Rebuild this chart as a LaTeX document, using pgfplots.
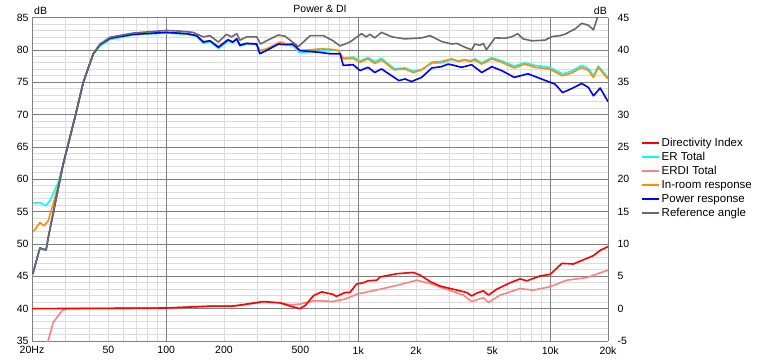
\documentclass[border=0pt]{standalone}
\usepackage{pgfplots}
\pgfplotsset{compat=1.18}
\usepackage{fontspec}
\setmainfont{Liberation Sans}
\definecolor{cDI}{RGB}{255,0,0}
\definecolor{cER}{RGB}{0,255,255}
\definecolor{cERDI}{RGB}{255,128,128}
\definecolor{cIR}{RGB}{255,140,0}
\definecolor{cPW}{RGB}{0,0,255}
\definecolor{cREF}{RGB}{105,105,105}
\definecolor{gmaj}{RGB}{128,128,128}
\definecolor{gmin}{RGB}{220,220,220}
\begin{document}
\begin{tikzpicture}[x=1pt,y=1pt]
\useasboundingbox (0,0) rectangle (760,360);
\pgfplotsset{every axis/.append style={
  scale only axis, width=576pt, height=323.5pt, at={(32pt,19pt)}, anchor=south west,
  xmode=log, xmin=20, xmax=20000, font=\fontsize{10.5}{12}\selectfont,
  /pgf/number format/assume math mode=true,
  major tick length=0pt, minor tick length=0pt,
  axis line style={gmaj},
  major grid style={gmaj, line width=0.7pt},
  minor grid style={gmin, line width=0.7pt},
  every axis plot/.append style={line width=1.6pt, line join=round},
}}
\begin{axis}[
  name=main,
  ymin=35, ymax=85, ytick={35,40,...,85},
  minor y tick num=4,
  ymajorgrids, yminorgrids,
  xtick={20,50,100,200,500,1000,2000,5000,10000,20000},
  xticklabels={20Hz,50,100,200,500,1k,2k,5k,10k,20k},
  xticklabel style={yshift=-2pt},
  minor xtick={20,30,40,50,60,70,80,90,200,300,400,500,600,700,800,900,2000,3000,4000,5000,6000,7000,8000,9000,20000},
  xmajorgrids=false, xminorgrids,
  extra x ticks={100,1000,10000}, extra x tick labels={},
  extra x tick style={xmajorgrids=true},
  axis x line*=bottom, axis y line*=left,
]
% ER Total
\addplot[cER] table {
20.3 56.3
22.0 56.4
23.6 55.9
24.8 56.7
27.4 59.5
29.1 62.4
33.5 69.6
37.0 75.0
41.7 79.3
45.2 80.6
51 81.6
67.4 82.3
100 82.6
128 82.4
144 82.1
156 81.0
169 81.3
187 80.2
210 81.4
222 81.1
233 81.6
242 80.6
262 80.9
296 80.8
307 79.6
333 80.0
392 81.0
458 80.6
496 79.6
562 79.7
632 79.8
716 80.0
790 79.9
836 78.7
942 78.9
1022 78.3
1125 78.8
1220 78.2
1322 78.7
1540 77.1
1752 77.2
1934 76.7
2140 77.0
2420 77.9
2714 78.0
3072 78.5
3330 78.3
3600 78.5
3830 78.3
4050 78.6
4400 78.0
4960 78.8
5580 78.3
6500 77.5
7350 78.0
8340 77.6
9900 77.3
11600 76.3
12900 76.7
14600 77.6
15800 77.1
16800 76.0
17800 77.5
20000 75.7
};
% In-room
\addplot[cIR] table {
20.3 51.9
22.0 53.3
23.1 52.8
24.3 53.6
25.8 56.2
27.4 59.0
29.1 62.4
33.5 69.6
37.0 75.0
41.7 79.4
45.2 80.8
51 81.8
67.4 82.4
100 82.7
128 82.5
144 82.2
156 81.3
169 81.4
187 80.5
210 81.6
222 81.2
233 81.7
242 80.8
262 81.0
296 80.9
307 79.9
333 80.15
392 81.2
458 80.7
496 79.9
562 80.0
632 80.15
716 80.1
790 79.9
836 78.6
942 78.7
1022 78.1
1125 78.6
1220 77.9
1322 78.45
1540 76.9
1752 77.05
1934 76.5
2140 76.9
2420 78.1
2714 78.2
3072 78.6
3330 78.2
3600 78.45
3830 78.2
4050 78.45
4400 77.8
4960 78.6
5580 78.1
6500 77.2
7350 77.8
8340 77.3
9900 77.05
11600 76.0
12900 76.4
14600 77.3
15800 76.8
16800 75.75
17800 77.3
20000 75.5
};
% Power
\addplot[cPW] table {
20.2 45.4
22.0 49.4
22.7 49.2
23.7 49.1
24.3 51.0
29.1 62.4
33.5 69.6
37.0 75.0
41.7 79.4
45.2 80.8
51 81.8
67.4 82.4
100 82.7
128 82.5
144 82.2
156 81.2
169 81.4
187 80.4
210 81.55
222 81.2
233 81.7
242 80.7
262 81.0
296 80.9
307 79.4
333 79.9
384 80.9
416 80.8
458 80.9
496 79.9
632 79.6
716 79.4
804 79.4
836 77.6
942 77.7
1022 76.8
1125 77.3
1220 76.5
1322 77.05
1628 75.25
1752 75.5
1894 75.1
2140 75.75
2420 77.2
2714 77.4
2940 77.8
3160 77.6
3450 77.3
3900 77.7
4400 76.5
4960 77.4
5580 76.8
6500 75.75
7660 76.3
9000 75.5
10600 74.7
11600 73.4
12900 74.0
14600 74.8
15800 74.2
16800 72.9
18200 74.1
20000 72.0
};
% Reference angle
\addplot[cREF] table {
20.2 45.4
22.0 49.4
22.7 49.2
23.7 49.1
24.3 51.0
29.1 62.4
33.5 69.6
37.0 75.0
41.7 79.4
45.2 80.9
51 81.95
67.4 82.6
100 83.0
118 82.9
138 82.7
156 82.0
169 82.2
187 81.2
206 82.4
219 82.0
233 82.5
242 81.5
262 82.0
296 82.0
310 80.9
333 81.4
384 82.3
416 82.1
488 80.5
562 82.2
658 82.2
740 81.4
804 80.6
905 81.2
1040 82.5
1100 82.0
1150 82.4
1220 81.85
1322 82.7
1500 82.0
1752 81.7
2140 81.85
2366 82.2
2714 81.3
3072 80.9
3260 81.0
3600 80.4
3900 80.0
4050 80.9
4300 80.7
4486 81.0
4650 80.0
5160 81.85
5820 81.8
6270 82.0
6770 82.5
7220 81.7
8000 81.4
9400 81.5
10200 82.05
11250 82.2
11900 82.4
13500 83.25
14600 84.1
15800 83.8
16800 83.1
17400 84.5
18200 86.5
20000 86.5
};
\end{axis}
\begin{axis}[
  ymin=-5, ymax=45, ytick={-5,0,...,45},
  axis y line*=right, axis x line=none,
  yticklabel style={xshift=6pt},
  legend style={at={(1.057,0.63)}, anchor=north west, draw=none, fill=none,
    inner sep=0pt, row sep=2.4pt, font=\fontsize{11.5}{13}\selectfont,
    nodes={inner ysep=0pt, text height=9.3pt, text depth=2.3pt},
    cells={anchor=west}},
  legend cell align=left,
]
\addlegendimage{cDI, line width=1.6pt}
\addlegendentry{Directivity Index}
\addlegendimage{cER, line width=1.6pt}
\addlegendentry{ER Total}
\addlegendimage{cERDI, line width=1.6pt}
\addlegendentry{ERDI Total}
\addlegendimage{cIR, line width=1.6pt}
\addlegendentry{In-room response}
\addlegendimage{cPW, line width=1.6pt}
\addlegendentry{Power response}
\addlegendimage{cREF, line width=1.6pt}
\addlegendentry{Reference angle}
% ERDI
\addplot[cERDI, forget plot] table {
24.0 -5.5
25.8 -2.1
28.6 -0.35
30.3 0
50 0.05
100 0.1
175 0.4
222 0.4
242 0.5
320 1.0
392 0.9
442 0.6
496 0.7
584 1.2
646 1.2
740 1.1
855 1.5
1000 2.3
1300 3.0
1590 3.6
2020 4.4
2366 3.9
2880 3.0
3520 2.1
3900 1.1
4486 1.7
4766 0.95
5494 2.1
6968 3.1
8146 2.85
10000 3.4
12200 4.4
15500 4.8
20000 5.95
};
% DI
\addplot[cDI, forget plot] table {
20 0
50 0.05
100 0.1
175 0.4
222 0.4
242 0.55
320 1.1
392 0.9
442 0.4
496 0
530 0.5
584 2.0
646 2.6
740 2.2
770 1.9
855 2.5
905 2.5
980 3.8
1060 4.0
1125 4.3
1250 4.4
1300 4.9
1590 5.4
1934 5.6
2096 5.2
2366 4.2
2668 3.5
3128 3.0
3673 2.5
3900 1.97
4140 2.4
4486 2.75
4766 2.1
5262 3.0
6180 4.0
6968 4.6
7550 4.3
8848 5.05
10000 5.3
11500 7.0
13200 6.9
16800 8.2
18200 9.0
20000 9.6
};
\end{axis}
\begin{scope}[font=\fontsize{10.5}{12}\selectfont]
\node[anchor=base west, inner sep=0] at ([xshift=2pt, yshift=3pt]main.north west) {dB};
\node[anchor=base east, inner sep=0] at ([xshift=-1pt, yshift=3pt]main.north east) {dB};
\node[anchor=base, inner sep=0] at ([yshift=5pt]main.north) {Power \& DI};
\end{scope}
\end{tikzpicture}
\end{document}
